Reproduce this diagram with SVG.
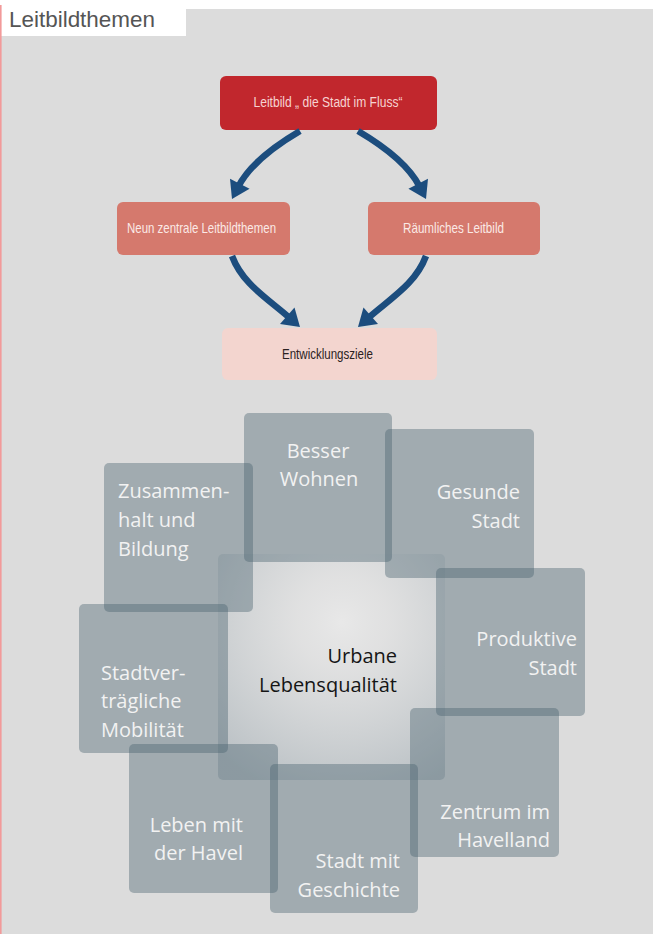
<svg xmlns="http://www.w3.org/2000/svg" width="653" height="934" viewBox="0 0 653 934">
<defs>
<style>
.box-t{font-family:"Liberation Sans",Arial,sans-serif;font-size:15px;text-anchor:middle}
.sq{fill:#48626f;fill-opacity:0.4}
.lbl{font-family:"Open Sans","Noto Sans",sans-serif;font-size:20px;fill:#f2f2f2}
.arrow{fill:none;stroke:#1c4d7e;stroke-width:6.5;marker-end:url(#ah)}
</style>
<marker id="ah" markerUnits="userSpaceOnUse" markerWidth="22" markerHeight="24" viewBox="0 -12 18 24" refX="3" refY="0" orient="auto">
<path d="M0,-11 L17,0 L0,11 z" fill="#1c4d7e"/>
</marker>
<radialGradient id="cg" gradientUnits="userSpaceOnUse" cx="342" cy="622" r="180">
<stop offset="0" stop-color="#ffffff" stop-opacity="0.35"/>
<stop offset="0.25" stop-color="#f0f1f2" stop-opacity="0.22"/>
<stop offset="1" stop-color="#5a7382" stop-opacity="0.27"/>
</radialGradient>
</defs>
<rect x="0" y="0" width="653" height="934" fill="#ffffff"/>
<rect x="0" y="9" width="653" height="925" fill="#dcdcdc"/>
<rect x="0" y="0" width="186" height="36" fill="#ffffff"/>
<rect x="0" y="5" width="1.6" height="929" fill="#f29a9a"/>
<text x="9" y="27" font-family="Liberation Sans,Arial,sans-serif" font-size="21.5" fill="#555555" textLength="146" lengthAdjust="spacingAndGlyphs">Leitbildthemen</text>

<g id="leitbild">
<rect x="220" y="76" width="217" height="54" rx="6" fill="#c1272d"/>
<text class="box-t" x="328" y="107" fill="#f6d3d1" style="font-size:14px" textLength="149" lengthAdjust="spacingAndGlyphs">Leitbild „ die Stadt im Fluss“</text>
</g>
<g id="neun">
<rect x="117" y="202" width="173" height="53" rx="6" fill="#d5796d"/>
<text class="box-t" x="201.5" y="233" fill="#fbe9e6" textLength="149" lengthAdjust="spacingAndGlyphs">Neun zentrale Leitbildthemen</text>
</g>
<g id="raeumlich">
<rect x="368" y="202" width="172" height="53" rx="6" fill="#d5796d"/>
<text class="box-t" x="453.5" y="233" fill="#fbe9e6" textLength="101" lengthAdjust="spacingAndGlyphs">Räumliches Leitbild</text>
</g>
<g id="entwicklung">
<rect x="222" y="328" width="215" height="52" rx="6" fill="#f3d5cf"/>
<text class="box-t" x="327.5" y="359" fill="#2b2222" textLength="91" lengthAdjust="spacingAndGlyphs">Entwicklungsziele</text>
</g>

<g id="connectors">
<path class="arrow" d="M300,131 C274.5,146 250,164 238.4,186.5"/>
<path class="arrow" d="M358,131 C383.5,146 408,164 419.6,186.5"/>
<path class="arrow" d="M232,256 C242.5,284 267,298 289.5,317.8"/>
<path class="arrow" d="M426,256 C415.5,284 391,298 368.5,317.8"/>
</g>

<g id="urbane">
<rect x="218" y="554" width="227" height="226" rx="5" fill="url(#cg)"/>
<text class="lbl" style="fill:#151515;text-anchor:end"><tspan x="397" y="663">Urbane</tspan><tspan x="397" y="692">Lebensqualität</tspan></text>
</g>
<g id="besser">
<rect class="sq" x="244" y="413" width="148" height="149" rx="5"/>
<text class="lbl" text-anchor="middle"><tspan x="318" y="458">Besser</tspan><tspan x="319" y="486">Wohnen</tspan></text>
</g>
<g id="gesunde">
<rect class="sq" x="385" y="429" width="149" height="149" rx="5"/>
<text class="lbl" text-anchor="end"><tspan x="520" y="499">Gesunde</tspan><tspan x="520" y="528">Stadt</tspan></text>
</g>
<g id="zusammenhalt">
<rect class="sq" x="104" y="463" width="149" height="149" rx="5"/>
<text class="lbl"><tspan x="118" y="498">Zusammen-</tspan><tspan x="118" y="527">halt und</tspan><tspan x="118" y="556">Bildung</tspan></text>
</g>
<g id="produktive">
<rect class="sq" x="436" y="568" width="149" height="148" rx="5"/>
<text class="lbl" text-anchor="end"><tspan x="577" y="646">Produktive</tspan><tspan x="577" y="675">Stadt</tspan></text>
</g>
<g id="mobilitaet">
<rect class="sq" x="79" y="604" width="149" height="149" rx="5"/>
<text class="lbl"><tspan x="101" y="680">Stadtver-</tspan><tspan x="101" y="708">trägliche</tspan><tspan x="101" y="737">Mobilität</tspan></text>
</g>
<g id="zentrum">
<rect class="sq" x="410" y="708" width="149" height="149" rx="5"/>
<text class="lbl" text-anchor="end"><tspan x="550" y="819">Zentrum im</tspan><tspan x="550" y="847">Havelland</tspan></text>
</g>
<g id="havel">
<rect class="sq" x="129" y="744" width="149" height="149" rx="5"/>
<text class="lbl" text-anchor="end"><tspan x="243" y="832">Leben mit</tspan><tspan x="243" y="860">der Havel</tspan></text>
</g>
<g id="geschichte">
<rect class="sq" x="270" y="764" width="148" height="149" rx="5"/>
<text class="lbl" text-anchor="end"><tspan x="400" y="868">Stadt mit</tspan><tspan x="400" y="897">Geschichte</tspan></text>
</g>
</svg>
